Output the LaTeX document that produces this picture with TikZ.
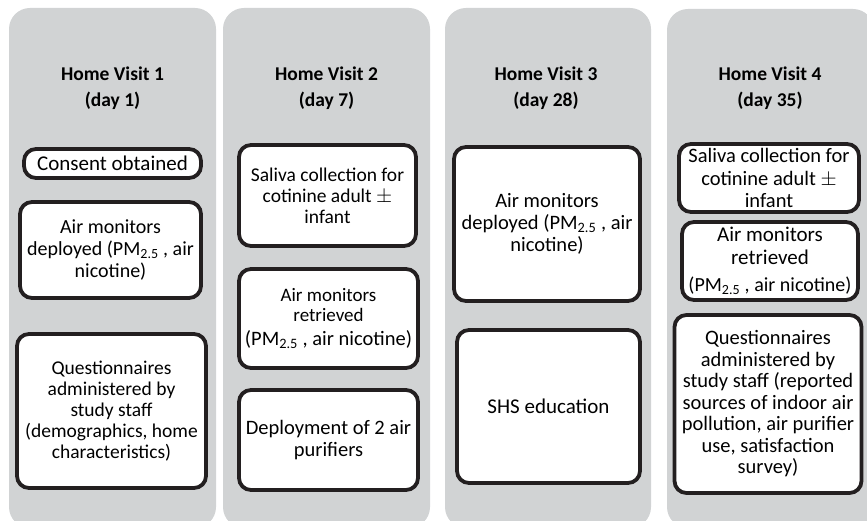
\documentclass[tikz,border=0pt]{standalone}
\usepackage{fontspec}
\setmainfont{Carlito}
\definecolor{colgray}{RGB}{209,211,212}
\definecolor{boxline}{RGB}{35,31,32}
\newcommand{\boxfont}[1]{\fontsize{#1}{\fpeval{1.08*#1}}\selectfont}
\begin{document}
\begin{tikzpicture}[x=1pt,y=-1pt,
  visit col/.style={fill=colgray,rounded corners=21pt},
  task box/.style={draw=boxline,fill=white,line width=3.8pt,rounded corners=12pt,align=center,inner sep=0pt,font=\boxfont{#1}},
  task box/.default=19.5,
  visit title/.style={align=center,inner sep=0pt,font=\fontsize{19.5}{26}\selectfont\bfseries}]
\useasboundingbox (0,0) rectangle (867,521);
\clip (0,0) rectangle (867,521);
% columns
\fill[visit col] (9,8) rectangle (216,528);
\fill[visit col] (223,8) rectangle (430,528);
\fill[visit col] (445,8) rectangle (651,528);
\fill[visit col] (667,9) rectangle (874,528);
\begin{scope}[every node/.style={visit title}]
\node (t1) at (112.5,88) {Home Visit 1\\(day 1)};%1
\node (t2) at (326.5,88) {Home Visit 2\\(day 7)};%2
\node (t3) at (546,88) {Home Visit 3\\(day 28)};%3
\node (t4) at (770,88) {Home Visit 4\\(day 35)};%4
\end{scope}
%visit 1
\node[task box=21,minimum width=177pt,minimum height=29pt] (consent) at (112.5,163.5) {Consent obtained};
\node[task box=20,minimum width=181pt,minimum height=96pt] (airdep1) at (110.5,250) {Air monitors\\deployed (PM\textsubscript{2.5} , air\\nicotine)};
\node[task box,minimum width=189pt,minimum height=154pt] (quest1) at (111.5,411) {Questionnaires\\administered by\\study staff\\(demographics, home\\characteristics)};
%visit 2
\node[task box,minimum width=177pt,minimum height=101pt] (saliva2) at (327.5,195.5) {Saliva collection for\\cotinine adult $\pm$\\infant};
\node[task box=19,minimum width=179pt,minimum height=99pt] (airret2) at (328.5,318.5) {Air monitors\\retrieved\\[3pt]{\boxfont{20.5}(PM\textsubscript{2.5} , air nicotine)}};
\node[task box=20.5,minimum width=179pt,minimum height=100pt] (purif2) at (328.5,440) {Deployment of 2 air\\purifiers};
%visit 3
\node[task box=20.5,minimum width=186pt,minimum height=154pt] (airdep3) at (547,224) {Air monitors\\deployed (PM\textsubscript{2.5} , air\\nicotine)};
\node[task box=21,minimum width=183pt,minimum height=153pt] (shs3) at (548.5,406.5) {SHS education};
%visit 4
\node[task box=20.5,minimum width=180pt,minimum height=68pt] (saliva4) at (769,178) {Saliva collection for\\cotinine adult $\pm$\\infant};
\node[task box=21,minimum width=176pt,minimum height=78pt] (airret4) at (770,261) {Air monitors\\retrieved\\[4pt]{\boxfont{20}(PM\textsubscript{2.5} , air nicotine)}};
\node[task box,font=\fontsize{20.5}{21.5}\selectfont,minimum width=187pt,minimum height=178pt] (quest4) at (768,404) {Questionnaires\\administered by\\study staff (reported\\sources of indoor air\\pollution, air purifier\\use, satisfaction\\survey)};
\end{tikzpicture}
\end{document}
